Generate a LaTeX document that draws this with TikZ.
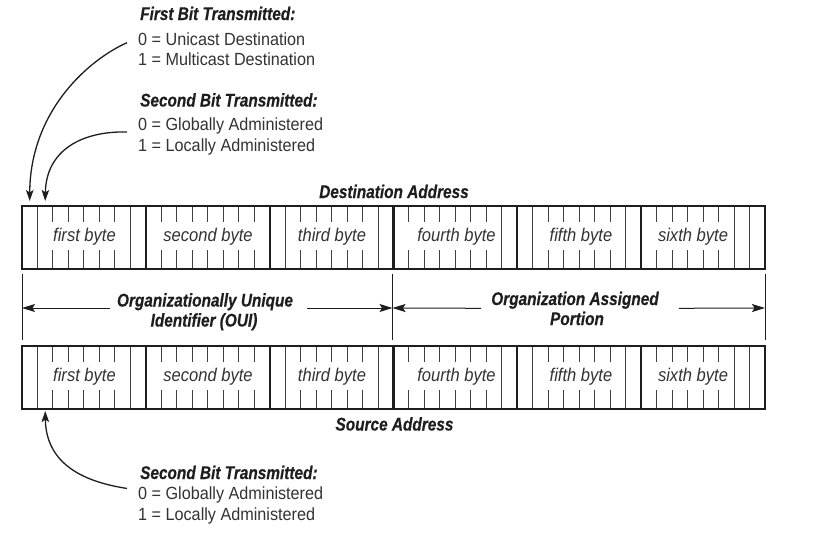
\documentclass[tikz,border=0pt]{standalone}
\usepackage{fontspec}
\setmainfont{Liberation Sans}
\newfontfamily\condfont[FakeStretch=0.84,FakeBold=0.4]{Liberation Sans}
\newfontfamily\bodyfont[FakeStretch=0.92]{Liberation Sans}
\newfontfamily\bytefont[FakeStretch=0.9]{Liberation Sans}
\usetikzlibrary{arrows.meta}
\definecolor{ink}{HTML}{1E1E1E}
\definecolor{txt}{HTML}{333333}
\begin{document}
\begin{tikzpicture}[x=1pt,y=-1pt,
 titletext/.style={font=\condfont\bfseries\itshape\fontsize{18.3}{20}\selectfont,text=ink,inner sep=0pt},
 bodytext/.style={font=\bodyfont\fontsize{17.6}{20}\selectfont,text=txt,inner sep=0pt},
 bytetext/.style={font=\bytefont\itshape\fontsize{18.4}{20}\selectfont,text=txt,inner sep=0pt},
 frameline/.style={draw=ink,line width=2.2pt},
 byteline/.style={draw=ink,line width=2.2pt},
 bitline/.style={draw=ink!85,line width=1pt},
 extline/.style={draw=ink,line width=0.9pt},
 dimarrow/.style={draw=ink,line width=1pt,-{Stealth[length=13pt,width=8pt,inset=2.5pt]}},
 curvearrow/.style={draw=ink,line width=1.3pt,-{Stealth[length=11pt,width=7.5pt,inset=2.5pt]}},
]
\useasboundingbox (0,0) rectangle (836,533);
\fill[white] (0,0) rectangle (836,533);
\def\bw{15.479}
% ---- the two address rows
\foreach \T in {206,346}{
  \foreach \k in {1,...,47}{
    \draw[bitline] (22+\k*\bw,\T) -- (22+\k*\bw,\T+16);
    \draw[bitline] (22+\k*\bw,\T+44) -- (22+\k*\bw,\T+63);
  }
  \foreach \k in {1,7,17,23,31,33,39,46,47}{
    \draw[bitline] (22+\k*\bw,\T) -- (22+\k*\bw,\T+63);
  }
  \foreach \k in {8,16,24,32,40}{
    \draw[byteline] (22+\k*\bw,\T) -- (22+\k*\bw,\T+63);
  }
  \draw[frameline] (22,\T) rectangle (765,\T+63);
}
% ---- byte labels
\foreach \n/\x/\t in {1/84.5/first byte,2/208/second byte,3/332/third byte,4/456.5/fourth byte,5/581/fifth byte,6/693/sixth byte}{
  \node[bytetext] (d\n) at (\x,237) {\t};
  \node[bytetext] (s\n) at (\x,377) {\t};
}
% ---- row titles
\node[titletext,anchor=base] (dst) at (394,198) {Destination Address};
\node[titletext,anchor=base] (src) at (394.5,430.5) {Source Address};
% ---- OUI / assigned portion
\node[titletext,anchor=base] (oui1) at (205,306.5) {Organizationally Unique};
\node[titletext,anchor=base] (oui2) at (204,326.5) {Identifier (OUI)};
\node[titletext,anchor=base] (org1) at (575,305) {Organization Assigned};
\node[titletext,anchor=base] (org2) at (577,325) {Portion};
\coordinate (eL) at (22,308);
\coordinate (eM) at (392.5,308);
\coordinate (eR) at (765,308);
\draw[extline] (22,274) -- (22,340);
\draw[extline] (392.5,274) -- (392.5,340);
\draw[extline] (765,274) -- (765,340);
\draw[dimarrow] ([shift={(-7,1.5)}]oui1.base west) -- (eL);
\draw[dimarrow] ([shift={(14,1.5)}]oui1.base east) -- (eM);
\draw[dimarrow] ([shift={(-10,3.3)}]org1.base west) -- (eM);
\draw[dimarrow] ([shift={(20,3.3)}]org1.base east) -- (eR);
% ---- annotations
\node[titletext,anchor=base west] (t1) at (140,20) {First Bit Transmitted:};
\node[bodytext,anchor=base west] (t1a) at (138,45) {0 = Unicast Destination};
\node[bodytext,anchor=base west] (t1b) at (138,65) {1 = Multicast Destination};
\node[titletext,anchor=base west] (t2) at (140,106.5) {Second Bit Transmitted:};
\node[bodytext,anchor=base west] (t2a) at (138,130.5) {0 = Globally Administered};
\node[bodytext,anchor=base west] (t2b) at (138,151.5) {1 = Locally Administered};
\node[titletext,anchor=base west] (b1) at (140,479) {Second Bit Transmitted:};
\node[bodytext,anchor=base west] (b1a) at (138,499) {0 = Globally Administered};
\node[bodytext,anchor=base west] (b1b) at (138,520) {1 = Locally Administered};
\coordinate (bitA) at (29.7,201);
\coordinate (bitB) at (45.2,201);
\coordinate (bitC) at (45.2,411);
\draw[curvearrow] ([shift={(-11,4)}]t1a.west) .. controls (90,59) and (30,110) .. (bitA);
\draw[curvearrow] ([shift={(-11,6)}]t2a.west) .. controls (82,131) and (46,150) .. (bitB);
\draw[curvearrow] ([shift={(-11,-6)}]b1a.west) .. controls (85,482) and (46,465) .. (bitC);
\end{tikzpicture}
\end{document}
